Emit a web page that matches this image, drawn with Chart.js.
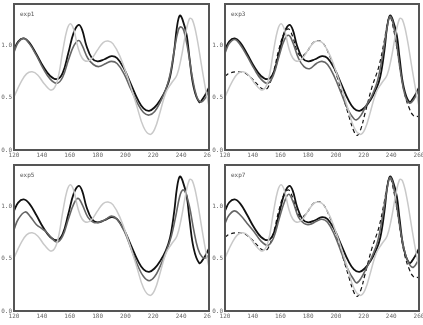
<!DOCTYPE html>
<html>
<head>
<meta charset="utf-8">
<script src="https://cdn.jsdelivr.net/npm/chart.js@4/dist/chart.umd.min.js"></script>
<style>
  body { margin: 0; background: #fff; }
  .wrap { position: relative; width: 423px; height: 325px; }
  .panel { position: absolute; }
</style>
</head>
<body>
<div class="wrap">
  <div class="panel" style="left:0;top:0;width:211px;height:162px"><canvas id="exp1"></canvas></div>
  <div class="panel" style="left:211px;top:0;width:212px;height:162px"><canvas id="exp3"></canvas></div>
  <div class="panel" style="left:0;top:161px;width:211px;height:162px"><canvas id="exp5"></canvas></div>
  <div class="panel" style="left:211px;top:161px;width:212px;height:162px"><canvas id="exp7"></canvas></div>
</div>
<script>
// x axis ticks and y tick labels
const xTicks = [120, 140, 160, 180, 200, 220, 240, 260];
const yTicks = [0, 0.5, 1.0];

// light gray curve (same in every panel)
const refX = [120, 125, 129, 133, 137, 142, 147, 151, 155, 158, 160.5, 163, 166, 169, 172.5, 176, 180, 184, 187.5, 191, 196, 202, 208, 213, 217.5, 221, 225, 229, 233, 237, 240, 243, 246, 248, 251, 255, 258, 260];
const refY = [0.51, 0.65, 0.73, 0.75, 0.72, 0.63, 0.575, 0.66, 0.95, 1.15, 1.21, 1.15, 0.98, 0.88, 0.85, 0.88, 0.96, 1.03, 1.045, 1.02, 0.9, 0.68, 0.43, 0.22, 0.15, 0.2, 0.37, 0.55, 0.64, 0.72, 0.88, 1.1, 1.26, 1.25, 1.1, 0.78, 0.55, 0.42];

// black curve (same in every panel)
const blackX = [120, 123, 127, 131, 136, 141, 146, 151, 155, 159, 163, 166.5, 169, 172, 176, 180, 185, 190, 194, 199, 204, 209, 213, 217, 221, 225, 229, 232, 235, 237, 239, 241, 244, 246, 249, 253, 256, 260];
const blackY = [0.96, 1.04, 1.07, 1.03, 0.92, 0.8, 0.71, 0.68, 0.74, 0.93, 1.13, 1.2, 1.15, 1.0, 0.88, 0.85, 0.87, 0.9, 0.88, 0.78, 0.63, 0.48, 0.4, 0.375, 0.41, 0.48, 0.58, 0.7, 0.95, 1.18, 1.29, 1.25, 1.1, 0.88, 0.6, 0.46, 0.5, 0.6];

// dark gray curves, one per experiment
const exp1X = [120, 123, 127, 131, 136, 141, 146, 151, 155, 159, 163, 166.5, 169, 173, 177, 181, 186, 190, 194, 199, 204, 209, 213, 217, 221, 225, 229, 232, 235, 238, 240, 242, 245, 248, 251, 254, 257, 260];
const exp1Y = [0.94, 1.03, 1.07, 1.02, 0.91, 0.78, 0.68, 0.64, 0.7, 0.86, 1.0, 1.05, 1.0, 0.88, 0.82, 0.8, 0.83, 0.85, 0.83, 0.73, 0.58, 0.44, 0.36, 0.335, 0.37, 0.46, 0.58, 0.72, 0.95, 1.15, 1.18, 1.14, 0.95, 0.7, 0.52, 0.46, 0.49, 0.57];

const exp3X = [120, 123, 127, 131, 136, 141, 146, 151, 155, 159, 163, 166, 169, 173, 177, 181, 186, 190, 194, 199, 204, 209, 213, 215, 218, 222, 226, 230, 234, 237, 239, 241, 244, 247, 250, 253, 256, 260];
const exp3Y = [0.93, 1.02, 1.06, 1.01, 0.9, 0.78, 0.68, 0.64, 0.72, 0.9, 1.06, 1.1, 1.03, 0.88, 0.8, 0.78, 0.83, 0.85, 0.82, 0.7, 0.54, 0.38, 0.3, 0.29, 0.33, 0.43, 0.52, 0.66, 0.93, 1.18, 1.28, 1.23, 1.0, 0.72, 0.52, 0.45, 0.48, 0.58];

const exp5X = [120, 123, 128, 132, 136, 140, 143, 147, 151, 155, 159, 163, 166, 169, 173, 177, 181, 186, 190, 194, 199, 204, 209, 213, 217, 221, 225, 229, 233, 236, 239, 241, 243, 246, 249, 252, 255, 258, 260];
const exp5Y = [0.78, 0.88, 0.95, 0.9, 0.83, 0.79, 0.76, 0.7, 0.66, 0.72, 0.88, 1.03, 1.08, 1.02, 0.9, 0.85, 0.85, 0.88, 0.91, 0.88, 0.77, 0.6, 0.43, 0.33, 0.29, 0.33, 0.43, 0.56, 0.72, 0.9, 1.1, 1.16, 1.14, 1.0, 0.78, 0.6, 0.52, 0.51, 0.54];

const exp7X = [120, 123, 127, 131, 136, 141, 146, 151, 155, 159, 163, 166, 169, 173, 177, 181, 186, 190, 194, 199, 204, 209, 213, 215, 218, 222, 226, 230, 234, 237, 239, 241, 244, 247, 250, 253, 256, 260];
const exp7Y = [0.84, 0.92, 0.96, 0.92, 0.84, 0.76, 0.67, 0.63, 0.7, 0.88, 1.05, 1.12, 1.05, 0.9, 0.84, 0.83, 0.86, 0.88, 0.85, 0.73, 0.56, 0.39, 0.3, 0.27, 0.31, 0.41, 0.52, 0.66, 0.93, 1.18, 1.28, 1.23, 1.0, 0.74, 0.55, 0.45, 0.42, 0.5];

// dashed black curve (exp3 and exp7)
const dashX = [120, 124, 129, 134, 139, 144, 148, 151, 155, 159, 163, 166, 169, 172, 175, 179, 183, 187, 191, 195, 200, 205, 210, 213, 215.5, 218, 221, 226, 231, 235, 237, 239, 241, 244, 247, 250, 253, 256, 260];
const dashY = [0.71, 0.74, 0.75, 0.74, 0.69, 0.62, 0.58, 0.6, 0.75, 0.97, 1.13, 1.16, 1.08, 0.95, 0.9, 0.94, 1.02, 1.05, 1.02, 0.92, 0.74, 0.52, 0.3, 0.18, 0.14, 0.2, 0.35, 0.6, 0.8, 1.05, 1.2, 1.28, 1.2, 0.98, 0.72, 0.52, 0.4, 0.33, 0.32];

function pts(xs, ys) {
  return xs.map((x, i) => ({ x: x, y: ys[i] }));
}

function line(xs, ys, color, width, dash) {
  return {
    data: pts(xs, ys),
    borderColor: color,
    borderWidth: width,
    borderDash: dash || [],
    pointRadius: 0,
    tension: 0.4,
    fill: false
  };
}

const frame = {
  id: 'frame',
  afterDraw(chart, args, opts) {
    const a = chart.chartArea;
    const ctx = chart.ctx;
    ctx.save();
    ctx.strokeStyle = '#555';
    ctx.lineWidth = 2;
    ctx.strokeRect(a.left, a.top, a.right - a.left, a.bottom - a.top);
    ctx.fillStyle = '#555';
    ctx.font = '6px "DejaVu Sans Mono"';
    ctx.textBaseline = 'middle';
    ctx.fillText(opts.text, a.left + 6, a.top + 10);
    ctx.restore();
  }
};

function makePanel(id, gray, withDash, padRight, padTop) {
  const sets = [
    line(refX, refY, '#c9c9c9', 1.5),
    line(gray[0], gray[1], '#666', 1.6)
  ];
  if (withDash) sets.push(line(dashX, dashY, '#111', 1.2, [4, 3]));
  sets.push(line(blackX, blackY, '#111', 1.8));

  new Chart(document.getElementById(id), {
    type: 'line',
    data: { datasets: sets },
    plugins: [frame],
    options: {
      responsive: true,
      maintainAspectRatio: false,
      animation: false,
      layout: { padding: { top: padTop, right: padRight, left: 0, bottom: 0 } },
      plugins: {
        legend: { display: false },
        tooltip: { enabled: false },
        frame: { text: id }
      },
      scales: {
        x: {
          type: 'linear',
          min: 120,
          max: 260,
          grid: { display: false, drawTicks: false },
          border: { display: false },
          afterBuildTicks: s => { s.ticks = xTicks.map(v => ({ value: v })); },
          afterFit: s => { s.height = 12; s.paddingLeft = 0; s.paddingRight = 0; },
          ticks: {
            padding: 2,
            maxRotation: 0,
            autoSkip: false,
            color: '#666',
            font: { family: 'DejaVu Sans Mono', size: 6 },
            callback: v => String(v)
          }
        },
        y: {
          min: 0,
          max: 1.4,
          grid: { display: false, drawTicks: false },
          border: { display: false },
          afterBuildTicks: s => { s.ticks = yTicks.map(v => ({ value: v })); },
          afterFit: s => { s.width = 14; s.paddingTop = 0; s.paddingBottom = 0; },
          ticks: {
            padding: 2,
            color: '#666',
            font: { family: 'DejaVu Sans Mono', size: 6 },
            callback: v => Number(v).toFixed(1)
          }
        }
      }
    }
  });
}

makePanel('exp1', [exp1X, exp1Y], false, 2, 4);
makePanel('exp3', [exp3X, exp3Y], true, 4, 4);
makePanel('exp5', [exp5X, exp5Y], false, 2, 4);
makePanel('exp7', [exp7X, exp7Y], true, 4, 4);
</script>
</body>
</html>
